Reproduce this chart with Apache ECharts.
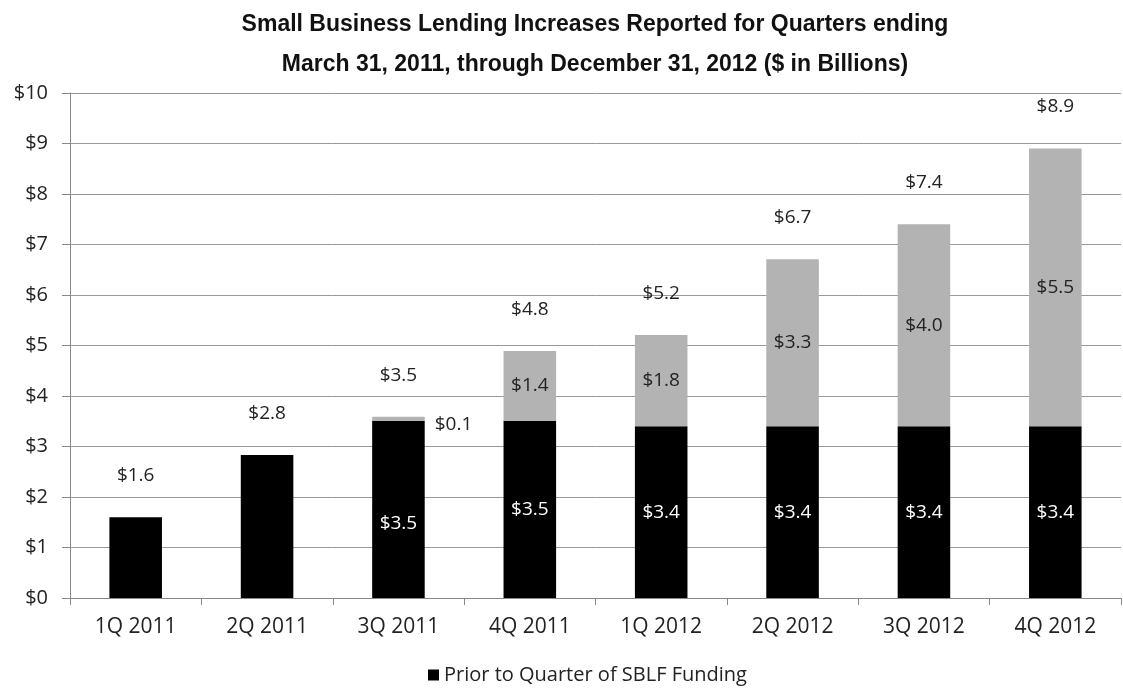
<!DOCTYPE html>
<html>
<head>
<meta charset="utf-8">
<script src="https://cdn.jsdelivr.net/npm/echarts@6/dist/echarts.min.js"></script>
<style>html,body{margin:0;padding:0;background:#fff;}#c{width:1123px;height:692px;}</style>
</head>
<body>
<div id="c"></div>
<script>
const categories = ['1Q 2011','2Q 2011','3Q 2011','4Q 2011','1Q 2012','2Q 2012','3Q 2012','4Q 2012'];
const priorValues = [1.6, 2.83, 3.51, 3.51, 3.4, 3.4, 3.4, 3.4];
const afterValues = [0, 0, 0.08, 1.38, 1.81, 3.31, 4.0, 5.5];
const totalLabels = [1.6, 2.8, 3.5, 4.8, 5.2, 6.7, 7.4, 8.9];
const yTicks = [0,1,2,3,4,5,6,7,8,9,10];

const font = '"Open Sans", Lato, sans-serif';
const chart = echarts.init(document.getElementById('c'), null, {renderer:'canvas'});
chart.setOption({
  animation: false,
  backgroundColor: '#fff',
  title: {
    text: 'Small Business Lending Increases Reported for Quarters ending\nMarch 31, 2011, through December 31, 2012 ($ in Billions)',
    left: 590, top: 0, textAlign: 'center',
    textStyle: {fontFamily: '"Liberation Sans", Arial, sans-serif', fontWeight: 'bold', fontSize: 23, color: '#111', lineHeight: 40}
  },
  legend: {
    data: ['Prior to Quarter of SBLF Funding'],
    left: 423, top: 660,
    itemWidth: 11, itemHeight: 11, itemGap: 6,
    icon: 'rect',
    textStyle: {fontFamily: font, fontSize: 20, color: '#222'}
  },
  grid: {left: 70, right: 2, top: 93, bottom: 94},
  xAxis: {
    type: 'category', data: categories,
    axisLine: {lineStyle: {color: '#888', width: 1}},
    axisTick: {show: true, length: 7, lineStyle: {color: '#888'}},
    axisLabel: {fontFamily: font, fontSize: 21, color: '#222', margin: 19}
  },
  yAxis: {
    type: 'value', min: yTicks[0], max: yTicks[yTicks.length-1], interval: 1,
    axisLine: {show: true, lineStyle: {color: '#888'}},
    axisTick: {show: true, length: 8, lineStyle: {color: '#888'}},
    splitLine: {lineStyle: {color: '#999', width: 1}},
    axisLabel: {fontFamily: font, fontSize: 20, color: '#222', margin: 22, formatter: v => '$' + v}
  },
  series: [
    {
      name: 'Prior to Quarter of SBLF Funding', type: 'bar', stack: 'total', barWidth: '40%',
      data: priorValues.map((v, i) => ({value: v, label: i === 2 ? {offset: [0, 14]} : {}})),
      itemStyle: {color: '#000'},
      label: {
        show: true, position: 'inside', color: '#fff', fontFamily: font, fontSize: 19,
        formatter: p => p.dataIndex >= 2 ? '$' + p.value.toFixed(1) : ''
      }
    },
    {
      name: 'After', type: 'bar', stack: 'total', barWidth: '40%',
      data: afterValues.map(v => ({value: v, label: v > 0 && v < 0.5 ? {position: 'right', distance: 10, offset: [0, 6]} : {}})),
      itemStyle: {color: '#b3b3b3'},
      label: {
        show: true, position: 'inside', color: '#222', fontFamily: font, fontSize: 19,
        formatter: p => p.value > 0 ? '$' + p.value.toFixed(1) : ''
      }
    },
    {
      name: 'Total', type: 'bar', stack: 'total', barWidth: '40%',
      data: categories.map(() => 0),
      itemStyle: {color: 'rgba(0,0,0,0)'},
      label: {
        show: true, position: 'top', distance: 32, color: '#222', fontFamily: font, fontSize: 19,
        formatter: p => '$' + totalLabels[p.dataIndex].toFixed(1)
      }
    }
  ]
});
</script>
</body>
</html>
